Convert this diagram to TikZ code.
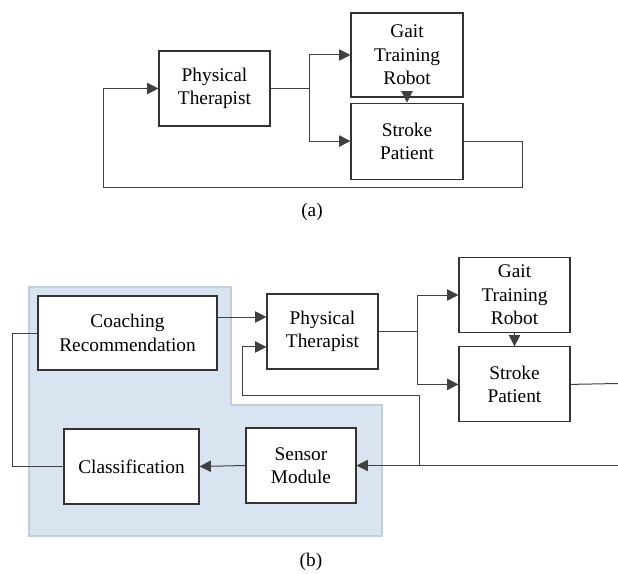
\documentclass[tikz,border=0pt]{standalone}
\usepackage{fontspec}
\setmainfont{Liberation Serif}
\usepackage{tikz}
\usetikzlibrary{arrows.meta,positioning}
\definecolor{regionblue}{HTML}{DAE3F0}
\definecolor{regionedge}{HTML}{C4CDDA}
\tikzstyle{point} = [coordinate]
\tikzstyle{block} = [rectangle, draw=black!80, fill=white, line width=0.8pt, align=center, inner sep=0pt, minimum width=83.25pt, minimum height=56.25pt]
\tikzstyle{wide} = [block, minimum width=134.25pt, minimum height=55.5pt]
\tikzstyle{caption} = [inner sep=0pt]

\begin{document}
\begin{tikzpicture}[x=0.75pt,y=-0.75pt,font=\rmfamily\fontsize{14.5pt}{17.5pt}\selectfont,
    >={Triangle[length=8.5pt,width=8.5pt]},line width=0.75pt,draw=black!75]
    \useasboundingbox (0,0) rectangle (618,574);

    % (a) therapist only
    \node [block] (ptA) at (214.5,88.5) {Physical\\Therapist};
    \node [block, minimum width=84pt, minimum height=63pt] (gaitA) at (407,55) {Gait\\Training\\Robot};
    \node [block, minimum width=84pt, minimum height=57pt, below=3.75pt of gaitA] (strokeA) {Stroke\\Patient};
    \node [point] (splitA) at (309,88.5) {};
    \node [caption] (capA) at (312,212) {(a)};

    \draw (ptA.east) -- (splitA);
    \draw[->] (splitA) |- (gaitA.west);
    \draw[->] (splitA) |- (strokeA.west);
    \draw[->] (gaitA) -- (strokeA);
    \draw[->] (strokeA.east) -| (522,188) -| (103,88.5) -- (ptA.west);

    % (b) with coaching system
    \filldraw[fill=regionblue, draw=regionedge, line width=0.9pt]
        (29,287) -- (231,287) -- (231,405) -- (382,405) -- (382,536) -- (29,536) -- cycle;

    \node [wide] (coach) at (127.5,333) {Coaching\\Recommendation};
    \node [block] (ptB) at (322.5,331.5) {Physical\\Therapist};
    \node [block] (gaitB) at (514.5,295) {Gait\\Training\\Robot};
    \node [block, below=10pt of gaitB] (strokeB) {Stroke\\Patient};
    \node [block, minimum width=82.5pt] (sensor) at (301,465.5) {Sensor\\Module};
    \node [block, minimum width=101.25pt] (classif) at (131.5,466.5) {Classification};
    \node [point] (splitB) at (417,331.5) {};
    \node [point] (tapB) at (419,465.5) {};
    \node [point] (inB) at (618,465.5) {};
    \node [point] (outB) at (618,383.5) {};
    \node [caption] (capB) at (311,562) {(b)};

    \draw[->] ([yshift=12pt]coach.east) -- ([yshift=12pt]coach.east -| ptB.west);
    \draw (ptB.east) -- (splitB);
    \draw[->] (splitB) |- (gaitB.west);
    \draw[->] (splitB) |- (strokeB.west);
    \draw[->] (gaitB) -- (strokeB);
    \draw (strokeB.east) -- (outB);
    \draw[->] (inB) -- (sensor.east);
    \draw[->] (tapB) |- (242,395) |- ([yshift=-11.6pt]ptB.west);
    \draw[->] (sensor.west) -- (classif.east);
    \draw (classif.west) -| (12,333) -- (coach.west);
\end{tikzpicture}
\end{document}
